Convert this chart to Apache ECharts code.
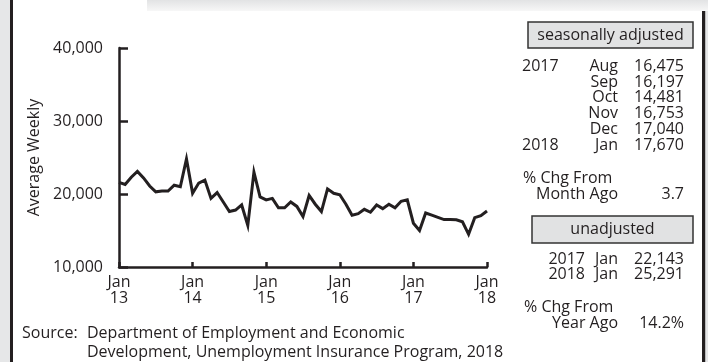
<!DOCTYPE html>
<html>
<head>
<meta charset="utf-8">
<script src="https://cdn.jsdelivr.net/npm/echarts@6/dist/echarts.min.js"></script>
<style>
  html, body { margin: 0; padding: 0; background: #fff; }
  #chart { width: 708px; height: 362px; }
</style>
</head>
<body>
<div id="chart"></div>
<script>
// monthly average weekly claims
const years = ['13', '14', '15', '16', '17', '18']
const months = ['Jan', 'Feb', 'Mar', 'Apr', 'May', 'Jun', 'Jul', 'Aug', 'Sep', 'Oct', 'Nov', 'Dec']
const claims2013 = [21600, 21300, 22300, 23100, 22200, 21100, 20300, 20400, 20400, 21200, 21000, 24800]
const claims2014 = [20100, 21500, 21900, 19400, 20200, 18900, 17600, 17800, 18500, 15700, 23000, 19600]
const claims2015 = [19200, 19400, 18100, 18100, 18900, 18300, 16900, 19800, 18600, 17600, 20700, 20100]
const claims2016 = [19900, 18600, 17100, 17300, 17900, 17500, 18500, 18000, 18600, 18100, 19000, 19200]
const claims2017 = [16000, 15000, 17400, 17100, 16800, 16500, 16500, 16475, 16197, 14481, 16753, 17040]
const claims2018 = [17670]
const yTicks = [10000, 20000, 30000, 40000]

const seasonalRows = [
  ['2017', 'Aug', '16,475'],
  ['', 'Sep', '16,197'],
  ['', 'Oct', '14,481'],
  ['', 'Nov', '16,753'],
  ['', 'Dec', '17,040'],
  ['2018', 'Jan', '17,670']
]
const monthChg = '3.7'
const unadjRows = [
  ['2017', 'Jan', '22,143'],
  ['2018', 'Jan', '25,291']
]
const yearChg = '14.2%'

const categories = []
years.forEach(y => months.forEach(m => categories.push(m + '\n' + y)))
const claims = [].concat(claims2013, claims2014, claims2015, claims2016, claims2017, claims2018)
categories.length = claims.length

const ink = '#231f20'
const font = 'Open Sans'

function txt(x, y, text, align, extra) {
  return Object.assign({
    type: 'text', x: x, y: y, z: 10,
    style: { text: text, fill: ink, font: '16px "' + font + '"', align: align || 'left', verticalAlign: 'middle' }
  }, extra || {})
}

const graphics = [
  // frame
  { type: 'rect', shape: { x: 0, y: 0, width: 10, height: 362 }, style: { fill: '#e6e7e8' } },
  { type: 'rect', shape: { x: 10, y: 0, width: 3, height: 362 }, style: { fill: ink } },
  { type: 'rect', shape: { x: 147, y: 0, width: 561, height: 11 },
    style: { fill: new echarts.graphic.LinearGradient(0, 0, 0, 1, [{ offset: 0, color: '#e2e3e4' }, { offset: 1, color: '#f7f7f7' }]) } },
  { type: 'rect', shape: { x: 702, y: 11, width: 3.5, height: 351 }, style: { fill: ink } },
  { type: 'rect', shape: { x: 705.5, y: 11, width: 3, height: 351 }, style: { fill: '#e6e7e8' } },
  // boxes
  { type: 'rect', shape: { x: 528, y: 22, width: 165, height: 26 }, style: { fill: '#e1e2e3', stroke: '#333', lineWidth: 1.5 } },
  { type: 'rect', shape: { x: 532, y: 216, width: 161, height: 27 }, style: { fill: '#e1e2e3', stroke: '#333', lineWidth: 1.5 } },
  txt(610.5, 35, 'seasonally adjusted', 'center'),
  txt(612.5, 229.5, 'unadjusted', 'center'),
  // source
  txt(22, 333, 'Source:'),
  txt(87, 333, 'Department of Employment and Economic'),
  txt(87, 352, 'Development, Unemployment Insurance Program, 2018')
]

seasonalRows.forEach((r, i) => {
  const y = 66.5 + i * 15.7
  if (r[0]) graphics.push(txt(522, y, r[0]))
  graphics.push(txt(618, y, r[1], 'right'))
  graphics.push(txt(684, y, r[2], 'right'))
})
graphics.push(txt(523, 178.5, '% Chg From'))
graphics.push(txt(618, 194, 'Month Ago', 'right'))
graphics.push(txt(684, 194, monthChg, 'right'))

unadjRows.forEach((r, i) => {
  const y = 259 + i * 15.5
  graphics.push(txt(585, y, r[0], 'right'))
  graphics.push(txt(618, y, r[1], 'right'))
  graphics.push(txt(684, y, r[2], 'right'))
})
graphics.push(txt(524, 307, '% Chg From'))
graphics.push(txt(618, 323, 'Year Ago', 'right'))
graphics.push(txt(684, 323, yearChg, 'right'))

const chart = echarts.init(document.getElementById('chart'))
chart.setOption({
  backgroundColor: '#fff',
  animation: false,
  textStyle: { fontFamily: font },
  grid: { left: 119, right: 221, top: 48, bottom: 95 },
  xAxis: {
    type: 'category',
    data: categories,
    boundaryGap: false,
    axisLine: { lineStyle: { color: ink, width: 2.5 } },
    axisTick: { inside: true, length: 5, lineStyle: { color: ink, width: 2.5 },
      interval: (idx) => idx % 12 === 0 },
    axisLabel: { color: ink, fontSize: 16, lineHeight: 16, margin: 7,
      interval: (idx) => idx % 12 === 0 },
    splitLine: { show: false }
  },
  yAxis: {
    type: 'value',
    min: yTicks[0],
    max: yTicks[yTicks.length - 1],
    interval: 10000,
    name: 'Average Weekly',
    nameLocation: 'middle',
    nameGap: 77,
    nameTextStyle: { color: ink, fontSize: 16 },
    axisLine: { show: true, lineStyle: { color: ink, width: 2.5 } },
    axisTick: { show: true, inside: true, length: 9, lineStyle: { color: ink, width: 2.5 } },
    axisLabel: { color: ink, fontSize: 16, margin: 16,
      formatter: v => v.toLocaleString('en-US') },
    splitLine: { show: false }
  },
  series: [{
    type: 'line',
    data: claims,
    symbol: 'none',
    lineStyle: { color: ink, width: 3, join: 'miter' }
  }],
  graphic: graphics
})
</script>
</body>
</html>
